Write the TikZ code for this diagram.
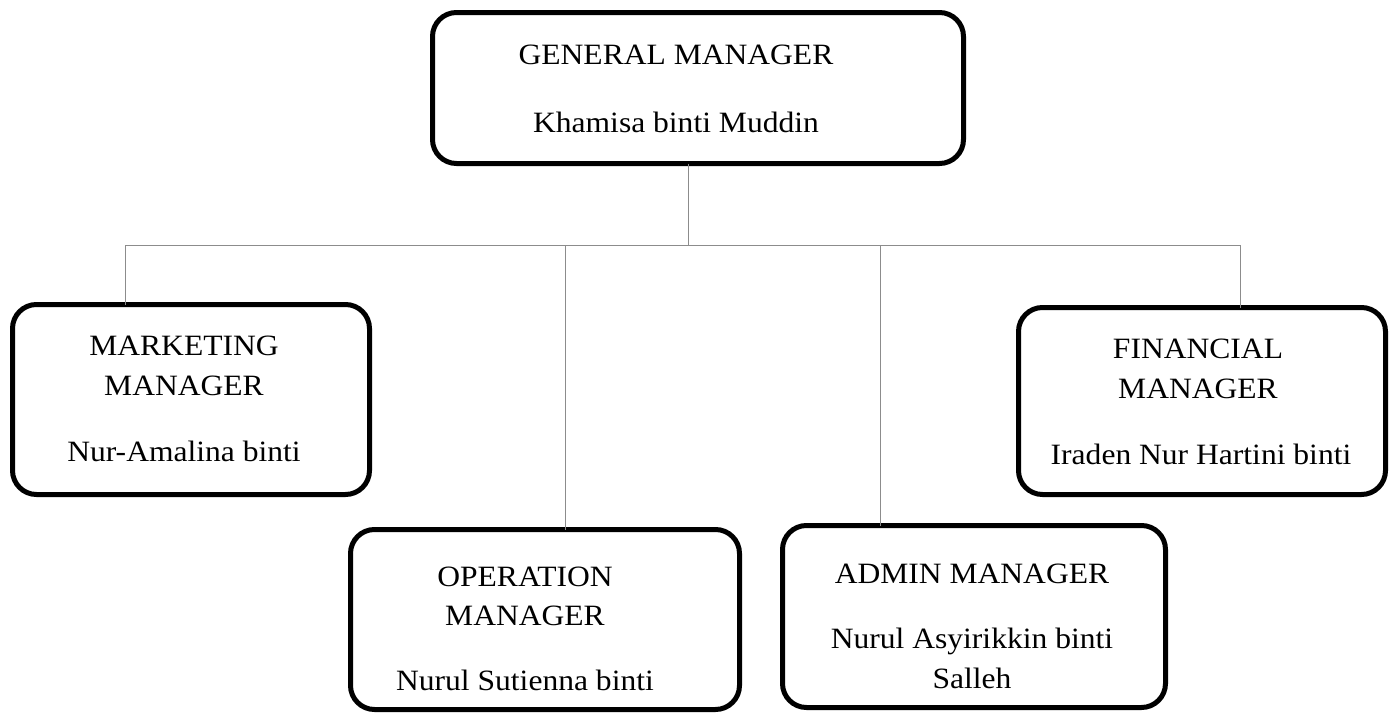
\documentclass[tikz,border=0pt]{standalone}
\usepackage{fontspec}
\setmainfont[FakeStretch=1.07]{Liberation Serif}
\begin{document}
\begin{tikzpicture}[x=1pt,y=-1pt,
  box/.style={draw=black,line width=5pt,rounded corners=24pt,inner sep=0pt,outer sep=0pt},
  txt/.style={anchor=base,inner sep=0pt,font=\fontsize{29.5}{35}\selectfont},
  link/.style={draw=black!45,line width=1pt}]
\useasboundingbox (0,0) rectangle (1398,715);
% boxes (corner coordinates are stroke centres)
\node[box,minimum width=531pt,minimum height=151pt] (gm)  at (698,88) {};
\node[box,minimum width=357pt,minimum height=190pt] (mkt) at (191,399.5) {};
\node[box,minimum width=389pt,minimum height=180pt] (ops) at (545,619.5) {};
\node[box,minimum width=383pt,minimum height=182pt] (adm) at (974,616.5) {};
\node[box,minimum width=367pt,minimum height=187pt] (fin) at (1202,401) {};
% texts
\node[txt] (gm1) at (676,64) {GENERAL MANAGER};
\node[txt] (gm2) at (676,132) {Khamisa binti Muddin};
\node[txt] (mk1) at (184,355) {MARKETING};
\node[txt] (mk2) at (184,395) {MANAGER};
\node[txt] (mk3) at (184,461) {Nur-Amalina binti};
\node[txt] (op1) at (525,586) {OPERATION};
\node[txt] (op2) at (525,625) {MANAGER};
\node[txt] (op3) at (525,690) {Nurul Sutienna binti};
\node[txt] (ad1) at (972,583) {ADMIN MANAGER};
\node[txt] (ad2) at (972,648) {Nurul Asyirikkin binti};
\node[txt] (ad3) at (972,688) {Salleh};
\node[txt] (fi1) at (1198,358) {FINANCIAL};
\node[txt] (fi2) at (1198,398) {MANAGER};
\node[txt] (fi3) at (1201,464) {Iraden Nur Hartini binti};
% connectors
\coordinate (hub) at (688,245);
\draw[link] (gm.south -| hub) -- (hub);
\draw[link] (mkt.north -| 125,0) |- (hub);
\draw[link] (fin.north -| 1240,0) |- (hub);
\draw[link] (ops.north -| 565,0) -- (565,245);
\draw[link] (adm.north -| 880,0) -- (880,245);
\end{tikzpicture}
\end{document}
